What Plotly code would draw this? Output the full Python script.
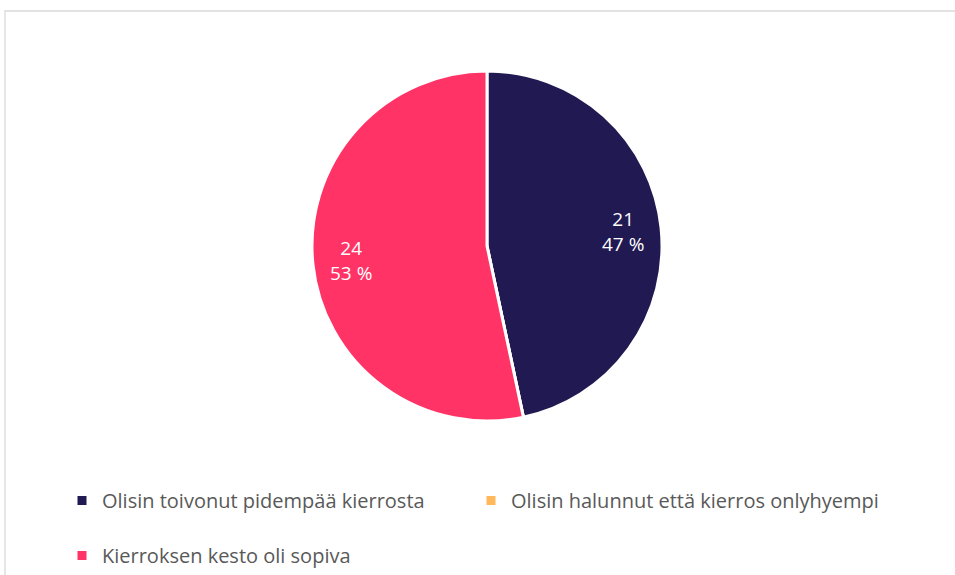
import math
import plotly.graph_objects as go

labels = ["Olisin toivonut pidempää kierrosta",
          "Olisin halunnut että kierros onlyhyempi",
          "Kierroksen kesto oli sopiva"]
values = [21, 0, 24]
colors = ["#211A52", "#FFB85C", "#FF3366"]

total = sum(values)
W, H = 955, 575
cx, cy, r = 487, 246, 175
label_radius = 0.78

# first legend row gets extra line height to mimic the wide row spacing
legend_labels = [l + "<br> " if i < len(labels) - 1 else l for i, l in enumerate(labels)]

fig = go.Figure(go.Pie(
    labels=legend_labels,
    values=values,
    textinfo="none",
    marker=dict(colors=colors, line=dict(color="white", width=3)),
    sort=False,
    direction="clockwise",
    rotation=0,
    domain=dict(x=[(cx - r) / W, (cx + r) / W], y=[1 - (cy + r) / H, 1 - (cy - r) / H]),
    showlegend=True,
    hovertext=labels,
    hoverinfo="text+value+percent",
))

annotations = []
cum = 0
for v in values:
    if v > 0:
        mid = (cum + v / 2) / total * 2 * math.pi
        px = cx + label_radius * r * math.sin(mid)
        py = cy - label_radius * r * math.cos(mid)
        annotations.append(dict(
            x=px / W, y=1 - py / H, xref="paper", yref="paper",
            text=f"{v}<br>{round(v / total * 100)} %", showarrow=False,
            font=dict(family="Open Sans", size=19, color="white"),
            align="center",
        ))
    cum += v

fig.update_layout(
    width=W, height=H,
    margin=dict(l=0, r=0, t=0, b=0),
    paper_bgcolor="white",
    plot_bgcolor="white",
    font=dict(family="Open Sans", color="#595959"),
    legend=dict(
        orientation="h",
        x=62 / W, xanchor="left",
        y=0, yanchor="bottom",
        font=dict(family="Open Sans", size=20, color="#595959"),
        entrywidth=364, entrywidthmode="pixels",
        itemwidth=30,
        valign="top",
        traceorder="normal",
        bgcolor="rgba(0,0,0,0)",
    ),
    annotations=annotations,
    shapes=[dict(type="rect", xref="paper", yref="paper",
                 x0=5 / W, x1=1.02, y0=-0.02, y1=1 - 11 / H,
                 line=dict(color="#D9D9D9", width=1.3), fillcolor="rgba(0,0,0,0)")],
)

fig.write_html("out.html", config={"displayModeBar": False},
               post_script="document.body.style.margin='0px';")
